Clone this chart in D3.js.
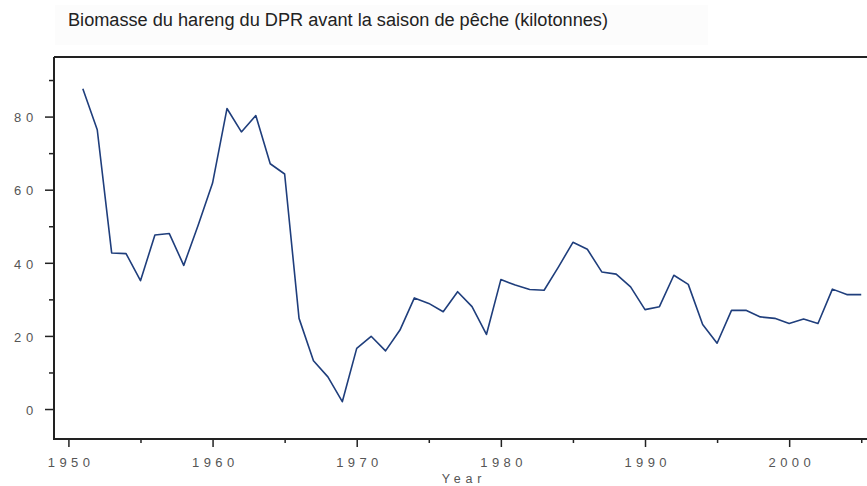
<!DOCTYPE html>
<html><head><meta charset="utf-8">
<script src="https://cdn.jsdelivr.net/npm/d3@7"></script>
<style>body{margin:0;background:#fff;}svg{display:block;}</style>
</head><body>
<svg id="c" width="867" height="486"></svg>
<script>
const title = "Biomasse du hareng du DPR avant la saison de pêche (kilotonnes)";
const xLabel = "Year";
const years = [1951,1952,1953,1954,1955,1956,1957,1958,1959,1960,1961,1962,1963,1964,1965,1966,1967,1968,1969,1970,1971,1972,1973,1974,1975,1976,1977,1978,1979,1980,1981,1982,1983,1984,1985,1986,1987,1988,1989,1990,1991,1992,1993,1994,1995,1996,1997,1998,1999,2000,2001,2002,2003,2004,2005];
const biomass = [87.6,76.4,42.7,42.5,35.1,47.6,48.0,39.3,50.3,61.8,82.2,75.8,80.3,67.1,64.3,24.8,13.2,8.8,2.0,16.6,19.9,15.9,21.6,30.4,28.9,26.6,32.1,28.0,20.4,35.4,33.9,32.7,32.5,38.9,45.6,43.7,37.5,36.9,33.4,27.2,28.0,36.6,34.1,23.1,18.0,27.0,27.0,25.2,24.8,23.4,24.6,23.4,32.8,31.3,31.3];
const xMajorTicks = [1950,1960,1970,1980,1990,2000];
const xMinorTicks = [1955,1965,1975,1985,1995,2005];
const yMajorTicks = [0,20,40,60,80];
const yMinorTicks = [10,30,50,70,90];

const svg = d3.select("#c");
const L = 54, R = 867, T = 57, B = 439;
const x = d3.scaleLinear().domain([1949, 2005.4]).range([L, R]);
const y = d3.scaleLinear().domain([-8.2, 96.3]).range([B, T]);
const font = "Liberation Sans, Arial, sans-serif";

// title background
svg.append("rect").attr("x", 55).attr("y", 5).attr("width", 653).attr("height", 40).attr("fill", "#fcfcfc");
svg.append("text").attr("x", 68).attr("y", 26).attr("font-family", font)
  .attr("font-size", 18).attr("fill", "#222").attr("textLength", 540).attr("lengthAdjust", "spacingAndGlyphs").text(title);

// x axis
const gx = svg.append("g").attr("transform", `translate(0,${B})`);
gx.call(d3.axisBottom(x).tickValues(xMajorTicks).tickSize(8).tickSizeOuter(0).tickFormat(d3.format("d")));
gx.append("g").call(d3.axisBottom(x).tickValues(xMinorTicks).tickSize(4).tickSizeOuter(0).tickFormat(""));
gx.selectAll(".domain").remove();
gx.selectAll("line").attr("stroke", "#222").attr("stroke-width", 1.5);
gx.selectAll("text").attr("font-family", font).attr("font-size", 13).attr("fill", "#555")
  .attr("letter-spacing", "4.4px").attr("y", 27.5).attr("dy", null).attr("dx", "2.2px");

// y axis
const gy = svg.append("g").attr("transform", `translate(${L},0)`);
gy.call(d3.axisLeft(y).tickValues(yMajorTicks).tickSize(9).tickSizeOuter(0).tickFormat(d3.format("d")));
gy.append("g").call(d3.axisLeft(y).tickValues(yMinorTicks).tickSize(5).tickSizeOuter(0).tickFormat(""));
gy.selectAll(".domain").remove();
gy.selectAll("line").attr("stroke", "#222").attr("stroke-width", 1.5);
gy.selectAll("text").attr("font-family", font).attr("font-size", 13).attr("fill", "#555")
  .attr("letter-spacing", "4.8px").attr("x", -16).attr("dy", "0.4em");

// frame
svg.append("path").attr("d", `M${L},${T}H${R}`).attr("stroke", "#222").attr("stroke-width", 2.2).attr("fill", "none");
svg.append("path").attr("d", `M${L},${T}V${B}H${R}`).attr("stroke", "#222").attr("stroke-width", 2).attr("fill", "none");

// x label
svg.append("text").attr("x", 464).attr("y", 483).attr("text-anchor", "middle").attr("font-family", font)
  .attr("font-size", 12.5).attr("fill", "#555").attr("letter-spacing", "4.8px").text(xLabel);

// line
const line = d3.line().x((d, i) => x(years[i])).y(d => y(d));
svg.append("path").datum(biomass).attr("d", line).attr("fill", "none")
  .attr("stroke", "#1f3e7c").attr("stroke-width", 1.6).attr("stroke-linejoin", "round");
</script>
</body></html>
